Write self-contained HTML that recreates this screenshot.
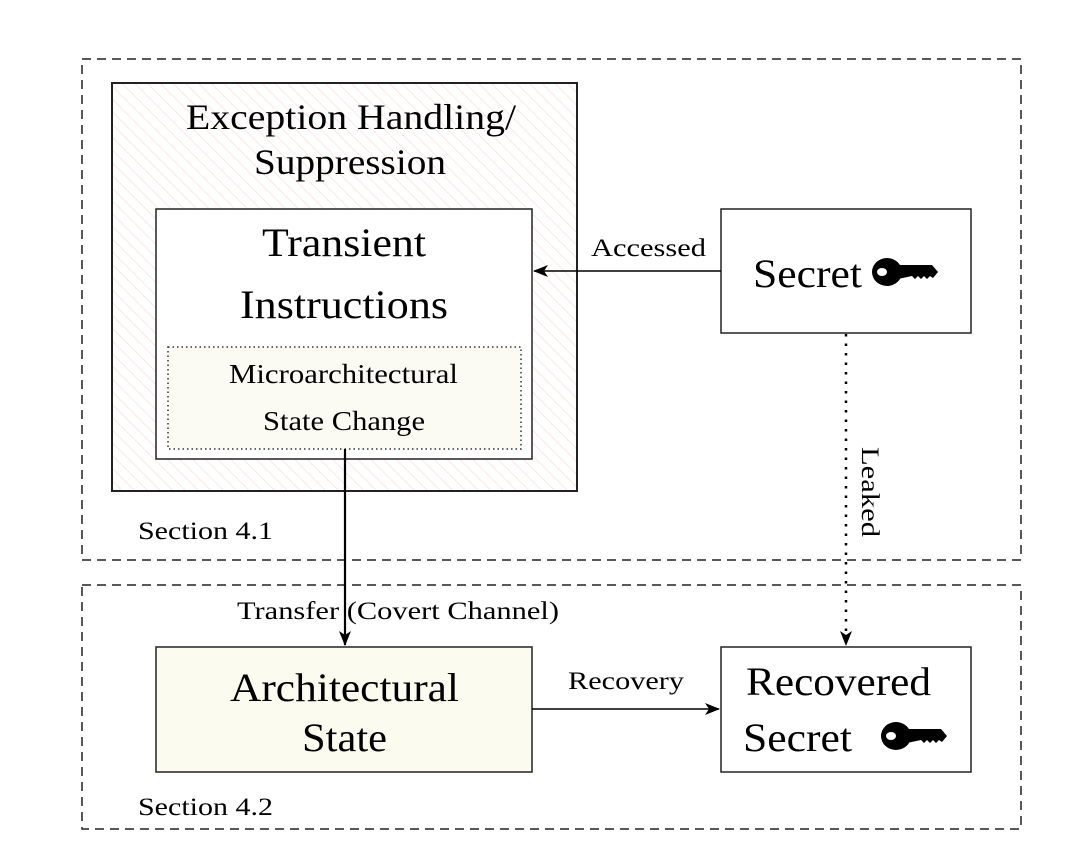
<!DOCTYPE html>
<html><head><meta charset="utf-8"><style>html,body{margin:0;padding:0;background:#fff}svg{display:block}text{font-family:"Liberation Serif",serif;fill:#000}</style></head>
<body>
<svg width="1072" height="850" viewBox="0 0 1072 850" xmlns="http://www.w3.org/2000/svg">
<defs>
<pattern id="h" patternUnits="userSpaceOnUse" width="9" height="9" patternTransform="rotate(-45)">
<rect width="9" height="9" fill="#fff"/><line x1="0" y1="0" x2="0" y2="9" stroke="#fcd9d9" stroke-width="1.3"/></pattern>
<marker id="a" markerWidth="16" markerHeight="16" refX="14" refY="7" orient="auto" markerUnits="userSpaceOnUse"><path d="M0,1 L15,7 L0,13 L4,7 Z" fill="#000"/></marker>
<g id="key"><ellipse cx="15" cy="14" rx="15" ry="14" fill="#000"/><ellipse cx="10" cy="14" rx="5" ry="4" fill="#fff"/><path d="M26,7 L60,7 L66,14 L61,20 L58,18 L55,21 L52,18 L49,21 L46,18 L43,21 L40,18 L26,21 Z" fill="#000"/></g>
</defs>
<rect x="82" y="59" width="939" height="501" fill="none" stroke="#222" stroke-width="1.5" stroke-dasharray="9,6"/>
<rect x="82" y="585" width="939" height="244" fill="none" stroke="#222" stroke-width="1.5" stroke-dasharray="9,6"/>
<rect x="112" y="83" width="465" height="408" fill="url(#h)" stroke="#222" stroke-width="2"/>
<text x="186" y="129" font-size="36" textLength="330" lengthAdjust="spacingAndGlyphs">Exception Handling/</text>
<text x="254" y="174" font-size="36" textLength="192" lengthAdjust="spacingAndGlyphs">Suppression</text>
<rect x="156" y="209" width="376" height="250" fill="#fff" stroke="#222" stroke-width="1.5"/>
<text x="262" y="256" font-size="40" textLength="164" lengthAdjust="spacingAndGlyphs">Transient</text>
<text x="240" y="318" font-size="40" textLength="208" lengthAdjust="spacingAndGlyphs">Instructions</text>
<rect x="168" y="347" width="353" height="102" fill="#fbfbf4" stroke="#333" stroke-width="1.5" stroke-dasharray="1.5,3"/>
<text x="229" y="383" font-size="27" textLength="229" lengthAdjust="spacingAndGlyphs">Microarchitectural</text>
<text x="263" y="430" font-size="27" textLength="162" lengthAdjust="spacingAndGlyphs">State Change</text>
<rect x="721" y="209" width="250" height="124" fill="#fff" stroke="#222" stroke-width="1.5"/>
<text x="753" y="287" font-size="40" textLength="109" lengthAdjust="spacingAndGlyphs">Secret</text>
<use href="#key" x="872" y="258"/>
<line x1="721" y1="271" x2="534" y2="271" stroke="#000" stroke-width="1.5" marker-end="url(#a)"/>
<text x="591" y="256" font-size="25" textLength="115" lengthAdjust="spacingAndGlyphs">Accessed</text>
<line x1="846" y1="334" x2="846" y2="645" stroke="#000" stroke-width="2.5" stroke-dasharray="2.5,7" marker-end="url(#a)"/>
<text x="0" y="0" font-size="25" text-anchor="middle" textLength="90" lengthAdjust="spacingAndGlyphs" transform="translate(862,492) rotate(90)">Leaked</text>
<line x1="345" y1="449" x2="345" y2="645" stroke="#000" stroke-width="2.2" marker-end="url(#a)"/>
<text x="237" y="619" font-size="25" textLength="322" lengthAdjust="spacingAndGlyphs">Transfer (Covert Channel)</text>
<rect x="156" y="647" width="376" height="125" fill="#fbfbf0" stroke="#222" stroke-width="1.5"/>
<text x="230" y="701" font-size="40" textLength="229" lengthAdjust="spacingAndGlyphs">Architectural</text>
<text x="302" y="751" font-size="40" textLength="85" lengthAdjust="spacingAndGlyphs">State</text>
<rect x="721" y="647" width="250" height="125" fill="#fff" stroke="#222" stroke-width="1.5"/>
<text x="746" y="695" font-size="40" textLength="185" lengthAdjust="spacingAndGlyphs">Recovered</text>
<text x="743" y="751" font-size="40" textLength="109" lengthAdjust="spacingAndGlyphs">Secret</text>
<use href="#key" x="881" y="722"/>
<line x1="532" y1="709" x2="719" y2="709" stroke="#000" stroke-width="1.5" marker-end="url(#a)"/>
<text x="568" y="689" font-size="25" textLength="116" lengthAdjust="spacingAndGlyphs">Recovery</text>
<text x="138" y="539" font-size="25" textLength="135" lengthAdjust="spacingAndGlyphs">Section 4.1</text>
<text x="138" y="815" font-size="25" textLength="135" lengthAdjust="spacingAndGlyphs">Section 4.2</text>
</svg>
</body></html>
